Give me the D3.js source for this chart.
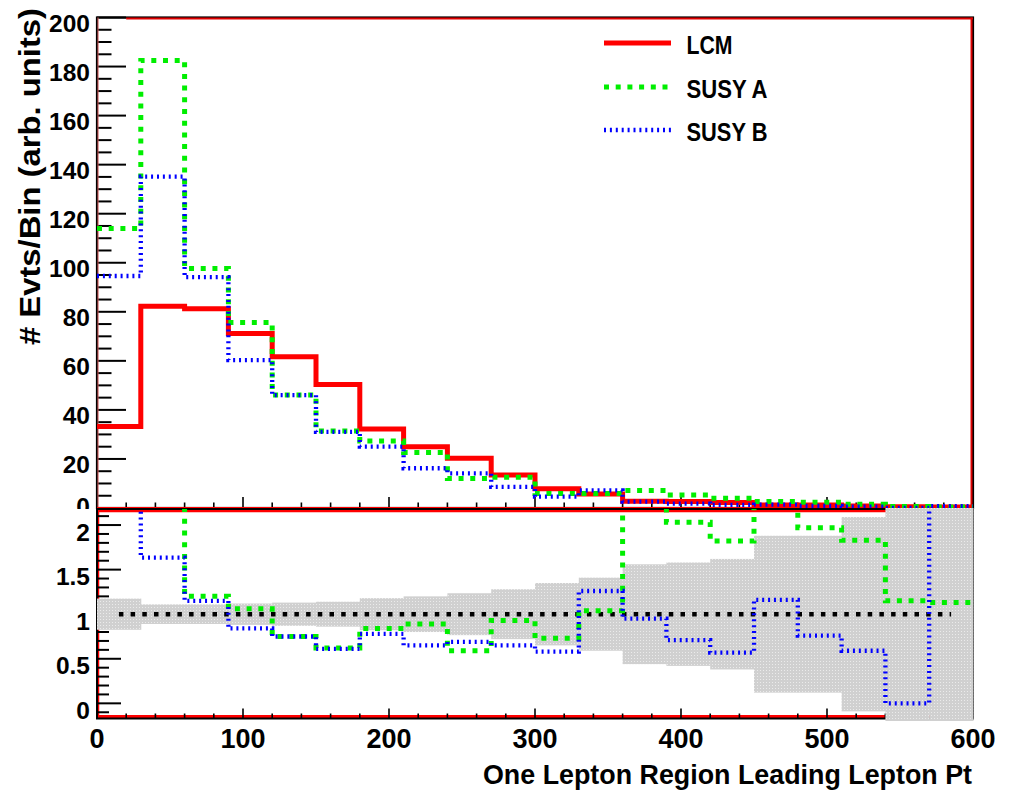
<!DOCTYPE html>
<html>
<head>
<meta charset="utf-8">
<script src="https://cdn.jsdelivr.net/npm/d3@7"></script>
<style>
  html, body { margin: 0; padding: 0; background: #fff; }
  svg { display: block; }
  text { font-family: "Liberation Sans", Arial, Helvetica, sans-serif; font-weight: bold; fill: #000; }
</style>
</head>
<body>
<svg id="chart" width="1012" height="792"></svg>
<script>
// Leading lepton pT, 20 bins of 30 GeV from 0 to 600
const binEdges = d3.range(0, 601, 30);
const lcm   = [33.2, 82.3, 81.2, 71.2, 61.7, 50.4, 32.2, 25.0, 20.3, 13.5, 7.9, 5.7, 2.8, 2.6, 2.2, 1.2, 1.2, 0.85, 0.5, 0.4];
const susyA = [114, 182.5, 97.7, 75.6, 46.1, 31.4, 27.3, 22.6, 12.0, 12.5, 5.9, 5.9, 7.1, 5.3, 4.0, 2.6, 2.3, 1.5, 0.6, 0.45];
const susyB = [94.6, 135.1, 94.1, 60.3, 46.0, 31.0, 25.0, 16.2, 14.1, 8.6, 4.6, 7.2, 2.6, 1.8, 1.25, 1.4, 0.9, 0.5, 0.0, 0.8];

// Ratio to LCM and the LCM relative uncertainty (half-width of the band)
const ratioA = [3.45, 2.25, 1.20, 1.06, 0.75, 0.62, 0.84, 0.89, 0.59, 0.93, 0.73, 1.04, 2.6, 2.03, 1.82, 2.3, 1.97, 1.83, 1.15, 1.13];
const ratioB = [2.85, 1.635, 1.15, 0.84, 0.75, 0.61, 0.78, 0.65, 0.69, 0.65, 0.58, 1.26, 0.95, 0.71, 0.57, 1.16, 0.76, 0.59, 0.0, 2.7];
const lcmRelErr = [0.175, 0.11, 0.11, 0.12, 0.13, 0.14, 0.18, 0.20, 0.235, 0.28, 0.35, 0.41, 0.56, 0.58, 0.62, 0.88, 0.88, 1.09, 1.6, 1.6];

const topTicks = [20, 40, 60, 80, 100, 120, 140, 160, 180, 200];
const ratioTicks = [0, 0.5, 1, 1.5, 2];
const xTicks = [0, 100, 200, 300, 400, 500, 600];
const seriesNames = ["LCM", "SUSY A", "SUSY B"];
const xTitle = "One Lepton Region Leading Lepton Pt";
const yTitle = "# Evts/Bin (arb. units)";

const svg = d3.select("#chart");

const L = 97, R = 973;
const topY0 = 17.5, topY1 = 508;
const botY0 = 509, botY1 = 718.5;

const x = d3.scaleLinear().domain([0, 600]).range([L, R]);
const yTop = d3.scaleLinear().domain([0, 200]).range([topY1, topY0]);
const yBot = d3.scaleLinear().domain([-0.17, 2.18]).range([botY1, botY0]);

const styles = {
  lcm:   { color: "#ff0000", width: 5,   dash: null },
  susyA: { color: "#00ee00", width: 5,   dash: "5,6.7" },
  susyB: { color: "#0000ff", width: 4.3, dash: "2,3.9" }
};

const defs = svg.append("defs");
defs.append("clipPath").attr("id", "clipTop")
  .append("rect").attr("x", L).attr("y", topY0).attr("width", R - L).attr("height", topY1 - topY0);
defs.append("clipPath").attr("id", "clipBot")
  .append("rect").attr("x", L).attr("y", botY0).attr("width", R - L).attr("height", botY1 - botY0);
defs.append("clipPath").attr("id", "clipBand")
  .append("rect").attr("x", L).attr("y", 508).attr("width", R - L + 1).attr("height", 213);

// stippled grey fill for the uncertainty band
const pat = defs.append("pattern").attr("id", "stipple")
  .attr("width", 3).attr("height", 3).attr("patternUnits", "userSpaceOnUse");
pat.append("rect").attr("width", 3).attr("height", 3).attr("fill", "#d0d0d0");
pat.append("rect").attr("x", 1).attr("y", 1).attr("width", 1).attr("height", 1).attr("fill", "#ebebeb");

function stepPoints(vals) {
  const pts = vals.map((v, i) => [binEdges[i], v]);
  pts.push([binEdges[binEdges.length - 1], vals[vals.length - 1]]);
  return pts;
}

function drawHist(g, vals, yScale, st) {
  const line = d3.line().x(d => x(d[0])).y(d => yScale(d[1])).curve(d3.curveStepAfter);
  g.append("path")
    .attr("d", line(stepPoints(vals)))
    .attr("fill", "none")
    .attr("stroke", st.color)
    .attr("stroke-width", st.width)
    .attr("stroke-dasharray", st.dash)
    .attr("stroke-linejoin", "miter")
    .attr("stroke-linecap", "butt");
}

/* ---------------- upper pad ---------------- */
const topPad = svg.append("g");

// y ticks and labels of the upper pad
topPad.selectAll(".ytick-top").data(d3.range(0, 201, 5)).join("line")
  .attr("x1", L).attr("x2", d => L + (d % 20 === 0 ? 29 : 14.5))
  .attr("y1", d => yTop(d)).attr("y2", d => yTop(d))
  .attr("stroke", "#000").attr("stroke-width", 2);
topPad.selectAll(".ylab-top").data(topTicks).join("text")
  .attr("x", 90).attr("y", d => yTop(d) + 14)
  .attr("text-anchor", "end").attr("font-size", 24.5)
  .text(d => d);
// the zero label sits on the pad boundary and is partly covered by the ratio pad
topPad.append("text")
  .attr("x", 90).attr("y", 515)
  .attr("text-anchor", "end").attr("font-size", 24.5)
  .text(0);

// x ticks of the upper pad
topPad.selectAll(".xtick-top").data(d3.range(0, 601, 20)).join("line")
  .attr("x1", d => x(d)).attr("x2", d => x(d))
  .attr("y1", topY1).attr("y2", d => topY1 - (d % 100 === 0 ? 11 : 5.5))
  .attr("stroke", "#000").attr("stroke-width", 1.6);

// frame
topPad.append("rect").attr("x", L).attr("y", topY0).attr("width", R - L).attr("height", topY1 - topY0)
  .attr("fill", "none").attr("stroke", "#000").attr("stroke-width", 2.2);
topPad.append("line").attr("x1", x(20)).attr("x2", R).attr("y1", topY0 + 1).attr("y2", topY0 + 1)
  .attr("stroke", "#e00000").attr("stroke-width", 2);
topPad.append("line").attr("x1", R - 1.5).attr("x2", R - 1.5).attr("y1", topY0).attr("y2", topY1)
  .attr("stroke", "#e00000").attr("stroke-width", 2);
topPad.append("line").attr("x1", L + 1).attr("x2", L + 1).attr("y1", topY0).attr("y2", topY1)
  .attr("stroke", "#e06060").attr("stroke-width", 1);
topPad.append("line").attr("x1", L).attr("x2", R).attr("y1", topY1).attr("y2", topY1)
  .attr("stroke", "#ff0000").attr("stroke-width", 2);

const topHists = topPad.append("g").attr("clip-path", "url(#clipTop)");
drawHist(topHists, lcm, yTop, styles.lcm);
drawHist(topHists, susyA, yTop, styles.susyA);
drawHist(topHists, susyB, yTop, styles.susyB);

// legend
const legend = topPad.append("g");
const legRows = [
  { name: seriesNames[0], st: styles.lcm,   y: 43,  w: 46 },
  { name: seriesNames[1], st: styles.susyA, y: 87,  w: 81 },
  { name: seriesNames[2], st: styles.susyB, y: 130, w: 81 }
];
legRows.forEach(r => {
  legend.append("line").attr("x1", 604).attr("x2", 671).attr("y1", r.y).attr("y2", r.y)
    .attr("stroke", r.st.color).attr("stroke-width", r.st.width)
    .attr("stroke-dasharray", r.st.dash);
  legend.append("text").attr("x", 686.5).attr("y", r.y + 11)
    .attr("font-size", 26).attr("textLength", r.w).attr("lengthAdjust", "spacingAndGlyphs")
    .text(r.name);
});

// y title
svg.append("text")
  .attr("transform", "translate(40,8) rotate(-90)")
  .attr("text-anchor", "end").attr("font-size", 29)
  .attr("textLength", 337).attr("lengthAdjust", "spacingAndGlyphs")
  .text(yTitle);

/* ---------------- lower (ratio) pad ---------------- */
const botPad = svg.append("g");
botPad.append("rect").attr("x", 0).attr("y", 509).attr("width", 1012).attr("height", 283).attr("fill", "#fff");

// red edges of the ratio frame
botPad.append("line").attr("x1", L).attr("x2", R).attr("y1", botY0 + 2).attr("y2", botY0 + 2)
  .attr("stroke", "#ff0000").attr("stroke-width", 2.5);
botPad.append("line").attr("x1", L).attr("x2", R).attr("y1", botY1 - 2).attr("y2", botY1 - 2)
  .attr("stroke", "#ff0000").attr("stroke-width", 3);
botPad.append("line").attr("x1", L + 1.5).attr("x2", L + 1.5).attr("y1", botY0).attr("y2", botY1)
  .attr("stroke", "#ff0000").attr("stroke-width", 1.5);

// frame
botPad.append("rect").attr("x", L).attr("y", botY0).attr("width", R - L).attr("height", botY1 - botY0)
  .attr("fill", "none").attr("stroke", "#000").attr("stroke-width", 2);

// y ticks
botPad.selectAll(".ytick-bot").data(d3.range(-1, 22).map(d => d / 10)).join("line")
  .attr("x1", L).attr("x2", d => L + (Math.round(d * 10) % 5 === 0 ? 24 : 12))
  .attr("y1", d => yBot(d)).attr("y2", d => yBot(d))
  .attr("stroke", "#000").attr("stroke-width", 2);
botPad.selectAll(".ylab-bot").data(ratioTicks).join("text")
  .attr("x", 90).attr("y", d => yBot(d) + 15.5)
  .attr("text-anchor", "end").attr("font-size", 24.5)
  .text(d => d);

// x ticks
botPad.selectAll(".xtick-bot").data(d3.range(0, 601, 20)).join("line")
  .attr("x1", d => x(d)).attr("x2", d => x(d))
  .attr("y1", botY1).attr("y2", d => botY1 - (d % 100 === 0 ? 10 : 5))
  .attr("stroke", "#000").attr("stroke-width", 1.6);

// LCM uncertainty band
const band = botPad.append("g").attr("clip-path", "url(#clipBand)");
band.selectAll("rect").data(lcmRelErr).join("rect")
  .attr("x", (d, i) => x(binEdges[i]))
  .attr("width", (d, i) => x(binEdges[i + 1]) - x(binEdges[i]) + 0.5)
  .attr("y", d => yBot(1 + d))
  .attr("height", d => yBot(1 - d) - yBot(1 + d))
  .attr("fill", "url(#stipple)");

// unity reference
botPad.append("line")
  .attr("x1", x(15)).attr("x2", x(585)).attr("y1", yBot(1)).attr("y2", yBot(1))
  .attr("stroke", "#000").attr("stroke-width", 4.5).attr("stroke-dasharray", "4.5,7.2");

const botHists = botPad.append("g").attr("clip-path", "url(#clipBot)");
drawHist(botHists, ratioA, yBot, styles.susyA);
drawHist(botHists, ratioB, yBot, styles.susyB);

// x tick labels and title
botPad.selectAll(".xlab").data(xTicks).join("text")
  .attr("x", d => x(d)).attr("y", 748)
  .attr("text-anchor", "middle").attr("font-size", 27)
  .text(d => d);
botPad.append("text")
  .attr("x", 972).attr("y", 784)
  .attr("text-anchor", "end").attr("font-size", 27)
  .attr("textLength", 489).attr("lengthAdjust", "spacingAndGlyphs")
  .text(xTitle);
</script>
</body>
</html>
